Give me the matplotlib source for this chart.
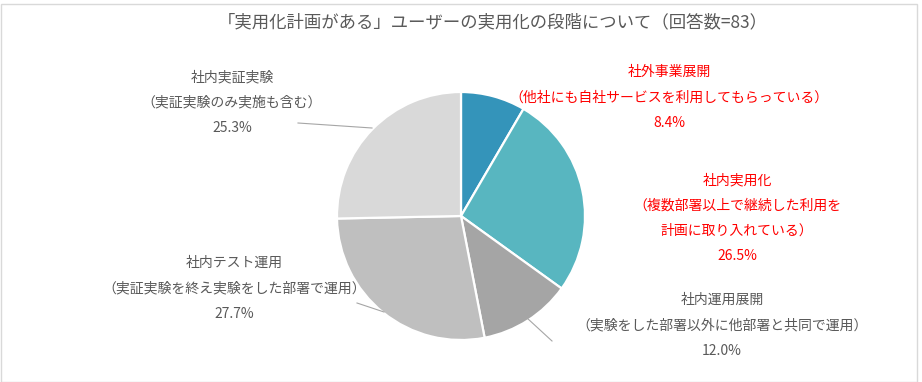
import matplotlib.pyplot as plt
from matplotlib.patches import Rectangle

plt.rcParams['font.family'] = ['Noto Sans CJK JP', 'DejaVu Sans']

# Data
title = "「実用化計画がある」ユーザーの実用化の段階について（回答数=83）"
values = [8.4, 26.5, 12.0, 27.7, 25.3]
colors = ['#3494BA', '#58B6C0', '#A5A5A5', '#BFBFBF', '#D9D9D9']
label_lines = [
    ["社外事業展開", "（他社にも自社サービスを利用してもらっている）"],
    ["社内実用化", "（複数部署以上で継続した利用を", "計画に取り入れている）"],
    ["社内運用展開", "（実験をした部署以外に他部署と共同で運用）"],
    ["社内テスト運用", "（実証実験を終え実験をした部署で運用）"],
    ["社内実証実験", "（実証実験のみ実施も含む）"],
]
label_colors = ['#FF0000', '#FF0000', '#595959', '#595959', '#595959']

# label block positions (pixels, top-left origin): center x, first line y
label_pos = [(669, 72), (737, 180), (722, 300), (234, 263), (232, 77)]
# leader lines (pixel coords), None = no line
leaders = [None, None, [(527, 318), (552, 341)], [(357, 303), (384, 312)], [(298, 123), (372, 128)]]

W, H = 922, 382
fig = plt.figure(figsize=(W / 100, H / 100), dpi=100)
ax = fig.add_axes([0, 0, 1, 1])

cx, cy, r = 461, 216, 124
ax.pie(values, colors=colors, startangle=90, counterclock=False,
       center=(cx, H - cy), radius=r,
       wedgeprops=dict(edgecolor='white', linewidth=1.6))

ax.set_xlim(0, W)
ax.set_ylim(0, H)
ax.set_aspect('equal')
ax.axis('off')

line_gap = 25.5
for lines, v, col, (x, y) in zip(label_lines, values, label_colors, label_pos):
    for i, t in enumerate(lines + [f"{v:.1f}%"]):
        ax.text(x, H - (y + i * line_gap), t, ha='center', va='center',
                fontsize=10, color=col)

for seg in leaders:
    if seg is None:
        continue
    (x0, y0), (x1, y1) = seg
    ax.plot([x0, x1], [H - y0, H - y1], color='#A6A6A6', linewidth=0.8)

ax.text(W / 2 + 32, H - 22, title, ha='center', va='center',
        fontsize=12.5, color='#595959')

fig.patches.append(Rectangle((0.5 / W, 0.5 / H), 1 - 6 / W, 1 - 4 / H,
                             transform=fig.transFigure, fill=False,
                             edgecolor='#D9D9D9', linewidth=1))

fig.savefig('out.png', dpi=100)
